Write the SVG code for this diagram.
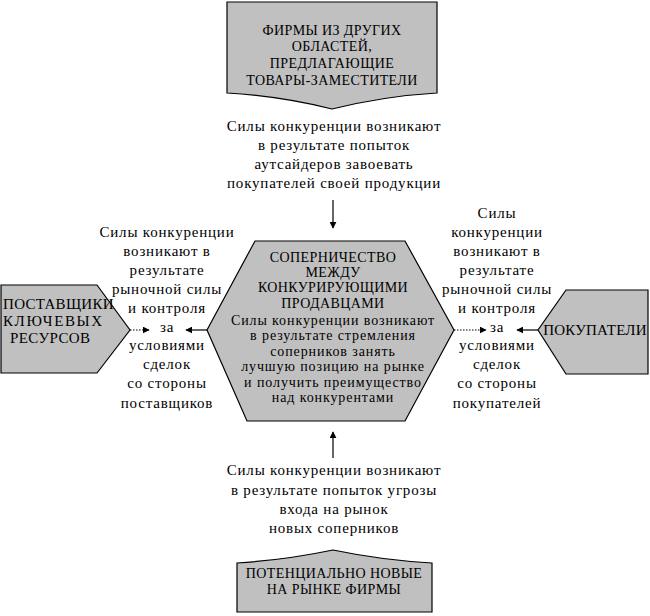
<svg xmlns="http://www.w3.org/2000/svg" width="650" height="616" viewBox="0 0 650 616">
<defs>
<style>
.shape{fill:#c0c0c0;stroke:#000;stroke-width:1.2}
.cap{font-family:"Liberation Serif","Times New Roman",serif;font-size:14px;fill:#000;text-anchor:middle;letter-spacing:0.4px}
.low{font-family:"Liberation Serif","Times New Roman",serif;font-size:15px;fill:#000;text-anchor:middle;letter-spacing:0.8px}
.in{font-family:"Liberation Serif","Times New Roman",serif;font-size:14px;fill:#000;text-anchor:middle;letter-spacing:0.9px}
.ln{stroke:#000;stroke-width:1.2;fill:none}
.dot{stroke:#000;stroke-width:1.2;fill:none;stroke-dasharray:1.5 1.5}
</style>
<marker id="ah" viewBox="0 0 10 10" refX="9" refY="5" markerWidth="7" markerHeight="7" orient="auto" markerUnits="userSpaceOnUse">
<path d="M0,0 L10,5 L0,10 Z" fill="#000"/>
</marker>
</defs>
<rect width="650" height="616" fill="#fff"/>

<g id="top-node">
<path class="shape" d="M227,2 L437,2 L437,93 Q385,96 332,109 Q280,96 227,93 Z"/>
<text class="cap" x="332" y="35">ФИРМЫ ИЗ ДРУГИХ</text>
<text class="cap" x="332" y="51">ОБЛАСТЕЙ,</text>
<text class="cap" x="332" y="68">ПРЕДЛАГАЮЩИЕ</text>
<text class="cap" x="332" y="85">ТОВАРЫ-ЗАМЕСТИТЕЛИ</text>
</g>

<g id="top-label">
<text class="low" x="334" y="131">Силы конкуренции возникают</text>
<text class="low" x="334" y="150">в результате попыток</text>
<text class="low" x="334" y="169">аутсайдеров завоевать</text>
<text class="low" x="334" y="188">покупателей своей продукции</text>
</g>

<g id="center-node">
<path class="shape" d="M255,241 L405,241 L454,330 L405,421 L247,421 L207,330 Z"/>
<text class="cap" x="333" y="262">СОПЕРНИЧЕСТВО</text>
<text class="cap" x="333" y="277">МЕЖДУ</text>
<text class="cap" x="333" y="292">КОНКУРИРУЮЩИМИ</text>
<text class="cap" x="333" y="308">ПРОДАВЦАМИ</text>
<text class="in" x="333" y="325">Силы конкуренции возникают</text>
<text class="in" x="333" y="340">в результате стремления</text>
<text class="in" x="333" y="356">соперников занять</text>
<text class="in" x="333" y="371">лучшую позицию на рынке</text>
<text class="in" x="333" y="387">и получить преимущество</text>
<text class="in" x="333" y="402">над конкурентами</text>
</g>

<g id="left-node">
<path class="shape" d="M1,285 L97,285 L130,330 L97,373 L1,373 Z"/>
<text class="cap" x="3" y="309" style="text-anchor:start;font-size:15px;letter-spacing:0.3px">ПОСТАВЩИКИ</text>
<text class="cap" x="3" y="326" style="text-anchor:start;font-size:15px;letter-spacing:1.6px">КЛЮЧЕВЫХ</text>
<text class="cap" x="10" y="343" style="text-anchor:start;font-size:15px">РЕСУРСОВ</text>
</g>

<g id="left-label">
<text class="low" x="167" y="237">Силы конкуренции</text>
<text class="low" x="167" y="256">возникают в</text>
<text class="low" x="167" y="275">результате</text>
<text class="low" x="167" y="294">рыночной силы</text>
<text class="low" x="167" y="313">и контроля</text>
<text class="low" x="167" y="332">за</text>
<text class="low" x="167" y="350">условиями</text>
<text class="low" x="167" y="369">сделок</text>
<text class="low" x="167" y="388">со стороны</text>
<text class="low" x="167" y="408">поставщиков</text>
</g>

<g id="right-node">
<path class="shape" d="M648,290 L566,290 L538,330 L566,374 L648,374 Z"/>
<text class="cap" x="595" y="335" style="font-size:15px;letter-spacing:0.2px">ПОКУПАТЕЛИ</text>
</g>

<g id="right-label">
<text class="low" x="497" y="218">Силы</text>
<text class="low" x="497" y="237">конкуренции</text>
<text class="low" x="497" y="256">возникают в</text>
<text class="low" x="497" y="275">результате</text>
<text class="low" x="497" y="294">рыночной силы</text>
<text class="low" x="497" y="313">и контроля</text>
<text class="low" x="497" y="332">за</text>
<text class="low" x="497" y="350">условиями</text>
<text class="low" x="497" y="369">сделок</text>
<text class="low" x="497" y="388">со стороны</text>
<text class="low" x="497" y="408">покупателей</text>
</g>

<g id="bottom-label">
<text class="low" x="334" y="475">Силы конкуренции возникают</text>
<text class="low" x="334" y="495">в результате попыток угрозы</text>
<text class="low" x="334" y="514">входа на рынок</text>
<text class="low" x="334" y="533">новых соперников</text>
</g>

<g id="bottom-node">
<path class="shape" d="M237,612 L237,563 Q285,560 333,550 Q381,560 432,563 L432,612 Z"/>
<text class="cap" x="334" y="578">ПОТЕНЦИАЛЬНО НОВЫЕ</text>
<text class="cap" x="334" y="594">НА РЫНКЕ ФИРМЫ</text>
</g>

<g id="connectors">
<line class="ln" x1="333" y1="200" x2="333" y2="228" marker-end="url(#ah)"/>
<line class="ln" x1="333" y1="458" x2="333" y2="432" marker-end="url(#ah)"/>
<line class="dot" x1="130" y1="330" x2="149" y2="330" marker-end="url(#ah)"/>
<line class="ln" x1="207" y1="330" x2="186" y2="330" marker-end="url(#ah)"/>
<line class="dot" x1="454" y1="330" x2="486" y2="330" marker-end="url(#ah)"/>
<line class="ln" x1="538" y1="330" x2="517" y2="330" marker-end="url(#ah)"/>
</g>
</svg>
